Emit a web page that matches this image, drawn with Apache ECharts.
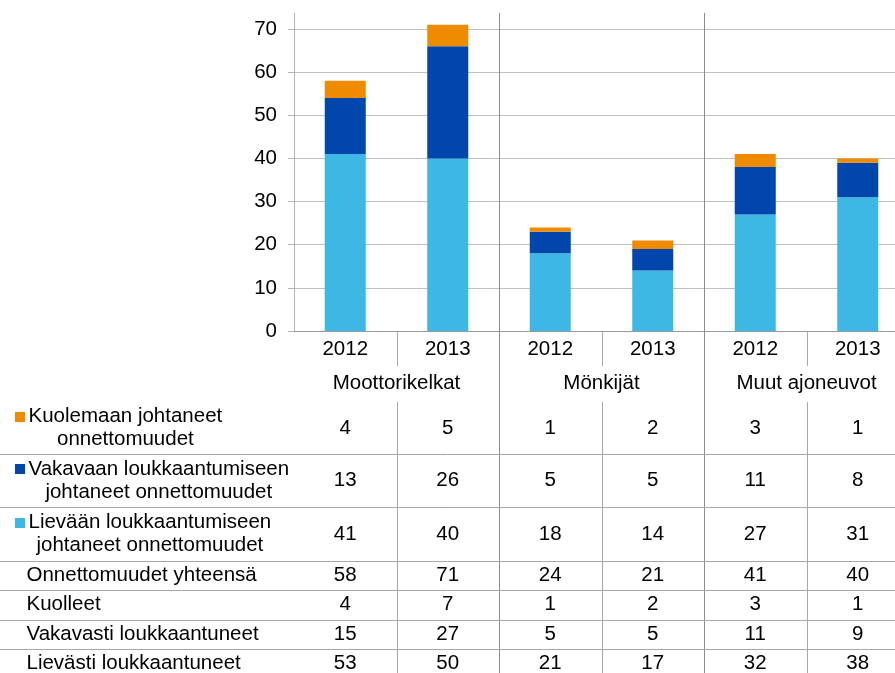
<!DOCTYPE html>
<html>
<head>
<meta charset="utf-8">
<script src="https://cdn.jsdelivr.net/npm/echarts@6/dist/echarts.min.js"></script>
<style>
html, body { margin: 0; padding: 0; background: #fff; }
#chart { width: 895px; height: 673px; }
</style>
</head>
<body>
<div id="chart"></div>
<script>
// data
const years = ['2012', '2013', '2012', '2013', '2012', '2013'];
const groups = ['Moottorikelkat', 'Mönkijät', 'Muut ajoneuvot'];
const yMax = 70;
const yStep = 10;

const kuolemaan = [4, 5, 1, 2, 3, 1];
const vakavaan = [13, 26, 5, 5, 11, 8];
const lievaan = [41, 40, 18, 14, 27, 31];
const yhteensa = [58, 71, 24, 21, 41, 40];
const kuolleet = [4, 7, 1, 2, 3, 1];
const vakavasti = [15, 27, 5, 5, 11, 9];
const lievasti = [53, 50, 21, 17, 32, 38];

const nameKuolemaan = 'Kuolemaan johtaneet\nonnettomuudet';
const nameVakavaan = 'Vakavaan loukkaantumiseen\njohtaneet onnettomuudet';
const nameLievaan = 'Lievään loukkaantumiseen\njohtaneet onnettomuudet';

const colOrange = '#EE8B00';
const colDark = '#0046AD';
const colLight = '#3DB8E4';

const FONT = '"Liberation Sans", Arial, sans-serif';
const FS = 20.5;

// table rows (top -> bottom)
const rows = [
    { label: nameKuolemaan, values: kuolemaan, color: colOrange },
    { label: nameVakavaan, values: vakavaan, color: colDark },
    { label: nameLievaan, values: lievaan, color: colLight },
    { label: 'Onnettomuudet yhteensä', values: yhteensa },
    { label: 'Kuolleet', values: kuolleet },
    { label: 'Vakavasti loukkaantuneet', values: vakavasti },
    { label: 'Lievästi loukkaantuneet', values: lievasti }
];
const rowEdges = [402, 454, 507, 561, 590, 619.5, 649, 678];

const chart = echarts.init(document.getElementById('chart'));

function barSeries(name, data, color) {
    return {
        name: name,
        type: 'bar',
        stack: 'all',
        barWidth: 41,
        clip: false,
        data: data,
        itemStyle: { color: color },
        emphasis: { disabled: true }
    };
}

chart.setOption({
    animation: false,
    grid: { left: 294, top: 29, width: 615, height: 302, outerBoundsMode: 'none', containLabel: false },
    xAxis: {
        type: 'category',
        data: years,
        axisLine: { lineStyle: { color: '#9a9a9a', width: 1 } },
        axisTick: { show: false },
        axisLabel: { color: '#000', fontSize: FS, fontFamily: FONT, margin: 8, interval: 0 },
        splitLine: { show: false }
    },
    yAxis: {
        type: 'value',
        min: 0,
        max: yMax,
        interval: yStep,
        axisLine: { show: true, lineStyle: { color: '#b4b4b4' } },
        axisTick: { show: true, length: 6, lineStyle: { color: '#b4b4b4' } },
        axisLabel: { color: '#000', fontSize: FS, fontFamily: FONT, margin: 17 },
        splitLine: { lineStyle: { color: '#bfbfbf' } }
    },
    series: [
        barSeries(nameLievaan, lievaan, colLight),
        barSeries(nameVakavaan, vakavaan, colDark),
        barSeries(nameKuolemaan, kuolemaan, colOrange)
    ]
});

// positions from the category axis
const xc = i => chart.convertToPixel({ xAxisIndex: 0 }, i);
const step = xc(1) - xc(0);
const edge = i => xc(0) + (i - 0.5) * step;   // boundary before category i
const crisp = v => Math.round(v) + 0.5;

const measure = document.createElement('canvas').getContext('2d');
measure.font = FS + 'px ' + FONT;

const g = [];
const tableLine = '#a8a8a8';

function vline(x, y1, y2, color) {
    g.push({ type: 'line', silent: true, z: 5,
        shape: { x1: crisp(x), y1: y1, x2: crisp(x), y2: y2 },
        style: { stroke: color, lineWidth: 1 } });
}
function hline(y, color) {
    g.push({ type: 'line', silent: true, z: 5,
        shape: { x1: 0, y1: crisp(y), x2: 895, y2: crisp(y) },
        style: { stroke: color, lineWidth: 1 } });
}
function text(str, x, y, align) {
    g.push({ type: 'text', silent: true, z: 6, x: x, y: y,
        style: { text: str, fill: '#000', font: FS + 'px ' + FONT,
            align: align || 'center', verticalAlign: 'middle', lineHeight: 23 } });
}

// y axis line goes a bit above the top gridline
vline(edge(0) - 0.5, 13, 331, '#b4b4b4');
// group separators run the full height
for (let k = 1; k < groups.length; k++) {
    vline(edge(2 * k), 13, 673, '#8c8c8c');
}
// separators between years: year row and table body
for (let k = 0; k < groups.length; k++) {
    const x = edge(2 * k + 1);
    vline(x, 331, 366, tableLine);
    vline(x, 402, 673, tableLine);
}
// row lines
for (let r = 1; r < rows.length; r++) {
    hline(rowEdges[r], tableLine);
}

// group names
groups.forEach((name, k) => {
    text(name, edge(2 * k + 1), 383);
});

// table body
rows.forEach((row, r) => {
    const cy = (rowEdges[r] + rowEdges[r + 1]) / 2;
    row.values.forEach((v, i) => text(String(v), xc(i), cy));
    if (row.color) {
        const lines = row.label.split('\n');
        const w1 = measure.measureText(lines[0]).width;
        const l1y = cy - 11.5;
        text(row.label, 28.5 + w1 / 2, cy);
        g.push({ type: 'rect', silent: true, z: 6,
            shape: { x: 15, y: Math.round(l1y - 5), width: 10, height: 10 },
            style: { fill: row.color } });
    } else {
        text(row.label, 26.5, cy, 'left');
    }
});

chart.setOption({ graphic: g });
</script>
</body>
</html>
